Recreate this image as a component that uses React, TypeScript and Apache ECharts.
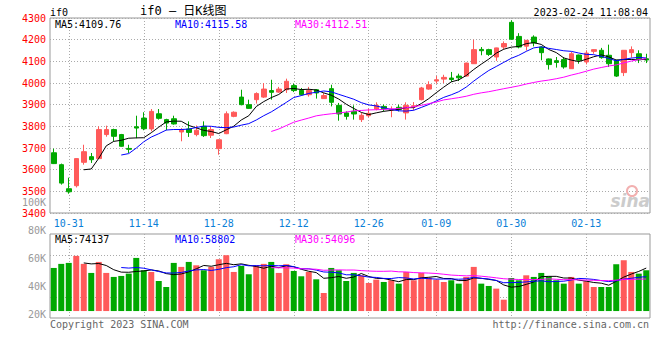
import { useEffect, useRef } from 'react';
import * as echarts from 'echarts';

// ---- data ----
const dates = [
  '10-27','10-28','10-31','11-01','11-02','11-03','11-04','11-07','11-08','11-09',
  '11-10','11-11','11-14','11-15','11-16','11-17','11-18','11-21','11-22','11-23',
  '11-24','11-25','11-28','11-29','11-30','12-01','12-02','12-05','12-06','12-07',
  '12-08','12-09','12-12','12-13','12-14','12-15','12-16','12-19','12-20','12-21',
  '12-22','12-23','12-26','12-27','12-28','12-29','12-30','01-03','01-04','01-05',
  '01-06','01-09','01-10','01-11','01-12','01-13','01-16','01-17','01-18','01-19',
  '01-20','01-30','01-31','02-01','02-02','02-03','02-06','02-07','02-08','02-09',
  '02-10','02-13','02-14','02-15','02-16','02-17','02-20','02-21','02-22','02-23',
];

const opens = [
  3678,3623,3512,3526,3634,3660,3651,3762,3785,3762,
  3698,3798,3838,3788,3858,3831,3835,3774,3788,3762,
  3800,3759,3697,3766,3846,3935,3900,3923,3935,3965,
  3958,3969,3988,3966,3946,3969,3928,3974,3897,3862,
  3869,3831,3849,3880,3892,3875,3888,3862,3891,3923,
  3972,4009,4018,4023,4032,4032,4089,4155,4154,4120,
  4166,4280,4215,4170,4212,4166,4111,4103,4108,4066,
  4129,4097,4146,4151,4128,4105,4048,4140,4135,4112,
];
const closes = [
  3628,3538,3498,3651,3683,3646,3785,3785,3754,3708,
  3694,3792,3789,3869,3837,3815,3811,3785,3772,3782,
  3757,3785,3738,3858,3865,3900,3883,3951,3972,3957,
  3972,4008,3965,3946,3965,3954,3942,3911,3857,3846,
  3857,3851,3860,3897,3881,3879,3878,3897,3895,3977,
  3992,4015,4026,4016,4024,4092,4154,4149,4132,4162,
  4182,4202,4166,4197,4185,4140,4085,4095,4074,4135,
  4105,4138,4154,4117,4089,4032,4151,4154,4108,4106,
];
const lows = [
  3626,3531,3489,3518,3623,3631,3650,3752,3731,3706,
  3677,3745,3782,3777,3831,3782,3808,3731,3751,3754,
  3751,3746,3669,3764,3842,3897,3881,3905,3931,3923,
  3954,3954,3958,3942,3937,3928,3927,3892,3826,3831,
  3831,3820,3842,3874,3869,3842,3869,3831,3874,3920,
  3969,3997,4000,4005,4009,4030,4088,4128,4125,4102,
  4155,4200,4160,4150,4169,4105,4062,4071,4066,4066,
  4089,4086,4135,4112,4074,4028,4032,4117,4092,4092,
];
const highs = [
  3697,3628,3563,3652,3715,3677,3800,3803,3789,3765,
  3715,3849,3865,3880,3880,3835,3849,3792,3823,3804,
  3823,3800,3740,3869,3869,3969,3923,3957,4000,4015,
  3982,4020,3997,3977,3982,3972,3954,3992,3908,3869,
  3897,3862,3882,3911,3900,3892,3900,3911,3912,3982,
  4008,4032,4038,4051,4043,4094,4200,4166,4158,4163,
  4192,4290,4230,4198,4220,4169,4113,4120,4120,4143,
  4131,4151,4155,4162,4177,4107,4152,4169,4151,4135,
];
const volumes = [
  74400,81400,83100,95200,81400,65800,84800,65800,58900,60600,
  64600,91700,70400,67500,51900,41500,83100,76200,84800,79000,
  70400,76200,89400,96400,67500,77900,63500,79000,81400,84800,
  65800,80800,69200,60000,67500,54800,31200,74400,70400,51900,
  65800,61700,48500,54200,50200,53100,47300,67500,53100,65800,
  57700,54200,50200,53100,47300,58900,76200,47300,43300,38700,
  19600,57100,53100,61700,58900,65800,60000,53100,47300,58900,
  47300,51400,41500,41500,41500,80800,87700,67500,64600,70400,
];

const xTickLabels = ['10-31','11-14','11-28','12-12','12-26','01-09','01-30','02-13'];
const priceMin = 3400;
const priceMax = 4300;
const priceStep = 100;
const volTickMin = 20000;
const volTickMax = 100000;
const volTickStep = 20000;
const priceLegend = ['MA5:4109.76', 'MA10:4115.58', 'MA30:4112.51'];
const volLegend = ['MA5:74137', 'MA10:58802', 'MA30:54096'];
const maPeriods = [5, 10, 30];
const titleText = 'if0 — 日K线图';
const symbolText = 'if0';
const timeText = '2023-02-24 11:08:04';
const copyrightText = 'Copyright 2023 SINA.COM';
const urlText = 'http://finance.sina.com.cn';

// ---- styles ----
const UP = '#ff5a5a';
const DOWN = '#00a800';
const MA_COLORS = ['#000000', '#0000ff', '#ff00ff'];
const MONO = "'DejaVu Sans Mono', monospace";
const GRID_LINE = { color: '#aaaaaa', type: [1, 2] as number[], width: 1 };

function movingAverage(arr: number[], n: number) {
  return arr.map((_, i) => {
    if (i < n - 1) return '-';
    let s = 0;
    for (let k = i - n + 1; k <= i; k++) s += arr[k];
    return +(s / n).toFixed(2);
  });
}

export default function App() {
  const ref = useRef<HTMLDivElement>(null);

  useEffect(() => {
    if (!ref.current) return;
    const chart = echarts.init(ref.current, undefined, { renderer: 'svg' });
    const isTick = (i: number) => xTickLabels.includes(dates[i]);

    const candleData = dates.map((_, i) => [opens[i], closes[i], lows[i], highs[i]]);
    const volData = volumes.map((v, i) => ({
      value: v,
      itemStyle: { color: closes[i] >= opens[i] ? UP : DOWN },
    }));

    const priceMA = maPeriods.map((p, k) => ({
      type: 'line',
      xAxisIndex: 0,
      yAxisIndex: 0,
      data: movingAverage(closes, p),
      showSymbol: false,
      symbol: 'none',
      lineStyle: { color: MA_COLORS[k], width: 1 },
      itemStyle: { color: MA_COLORS[k] },
      silent: true,
      z: 5,
    }));
    const volMA = maPeriods.map((p, k) => ({
      type: 'line',
      xAxisIndex: 1,
      yAxisIndex: 1,
      data: movingAverage(volumes, p),
      showSymbol: false,
      symbol: 'none',
      lineStyle: { color: MA_COLORS[k], width: 1 },
      itemStyle: { color: MA_COLORS[k] },
      silent: true,
      z: 5,
    }));

    const legendX = [55, 175, 295];
    const textFont = `10px ${MONO}`;

    const graphic: any[] = [
      { type: 'text', x: 50, y: 12, style: { text: symbolText, fill: '#000', font: textFont, textVerticalAlign: 'middle', verticalAlign: 'middle' } },
      { type: 'text', x: 140, y: 11, style: { text: titleText, fill: '#000', font: `12px ${MONO}, 'Noto Sans CJK SC'`, textVerticalAlign: 'middle', verticalAlign: 'middle' } },
      { type: 'text', x: 648, y: 12, style: { text: timeText, fill: '#000', font: textFont, textAlign: 'right', align: 'right', textVerticalAlign: 'middle', verticalAlign: 'middle' } },
      { type: 'text', x: 50, y: 324, style: { text: copyrightText, fill: '#666', font: textFont, textVerticalAlign: 'middle', verticalAlign: 'middle' } },
      { type: 'text', x: 649, y: 324, style: { text: urlText, fill: '#666', font: textFont, textAlign: 'right', align: 'right', textVerticalAlign: 'middle', verticalAlign: 'middle' } },
      { type: 'circle', shape: { cx: 632, cy: 191, r: 5 }, style: { fill: 'none', stroke: '#f2b0b0', lineWidth: 2 }, z: 1 },
      { type: 'text', x: 650, y: 201, z: 1, style: { text: 'sina', fill: '#cccccc', font: `italic bold 17px 'DejaVu Sans', sans-serif`, textAlign: 'right', align: 'right', textVerticalAlign: 'middle', verticalAlign: 'middle' } },
    ];
    priceLegend.forEach((t, k) => graphic.push({ type: 'text', x: legendX[k], y: 24, z: 10, style: { text: t, fill: MA_COLORS[k], font: textFont, textVerticalAlign: 'middle', verticalAlign: 'middle' } }));
    volLegend.forEach((t, k) => graphic.push({ type: 'text', x: legendX[k], y: 239, z: 10, style: { text: t, fill: MA_COLORS[k], font: textFont, textVerticalAlign: 'middle', verticalAlign: 'middle' } }));

    const option: any = {
      animation: false,
      backgroundColor: '#ffffff',
      textStyle: { fontFamily: MONO },
      grid: [
        { left: 50, top: 18, width: 600, height: 195, show: true, borderColor: '#999', borderWidth: 1, backgroundColor: 'transparent', outerBoundsMode: 'none' },
        { left: 50, top: 234, width: 600, height: 84, show: true, borderColor: '#999', borderWidth: 1, backgroundColor: 'transparent', outerBoundsMode: 'none' },
        { left: 50, top: 202, width: 600, height: 112, show: false, outerBoundsMode: 'none' },
      ],
      xAxis: [
        {
          type: 'category', gridIndex: 0, data: dates, boundaryGap: true,
          axisLine: { show: false }, axisTick: { show: false },
          axisLabel: { interval: (i: number) => isTick(i), color: '#0a7fd8', fontSize: 10, fontFamily: MONO, margin: 5 },
          splitLine: { show: true, interval: (i: number) => isTick(i), alignWithLabel: true, lineStyle: GRID_LINE },
        },
        {
          type: 'category', gridIndex: 1, data: dates, boundaryGap: true,
          axisLine: { show: false }, axisTick: { show: false }, axisLabel: { show: false },
          splitLine: { show: true, interval: (i: number) => isTick(i), alignWithLabel: true, lineStyle: GRID_LINE },
        },
        { type: 'value', gridIndex: 2, min: 0, max: 1, show: false },
      ],
      yAxis: [
        {
          type: 'value', gridIndex: 0, min: priceMin, max: priceMax, interval: priceStep,
          axisLine: { show: false }, axisTick: { show: false },
          axisLabel: { color: '#ff0000', fontSize: 10, fontFamily: MONO, margin: 4, formatter: (v: number) => String(v) },
          splitLine: { show: true, lineStyle: GRID_LINE },
        },
        { type: 'value', gridIndex: 1, min: -12000, max: 133000, show: false, splitLine: { show: false } },
        {
          type: 'value', gridIndex: 1, min: 0, max: 4, interval: 1, position: 'left',
          axisLine: { show: false }, axisTick: { show: false }, axisLabel: { show: false },
          splitLine: { show: true, lineStyle: { ...GRID_LINE, color: ['rgba(0,0,0,0)', '#aaaaaa', 'rgba(0,0,0,0)', '#aaaaaa', 'rgba(0,0,0,0)'] } },
        },
        {
          type: 'value', gridIndex: 2, min: volTickMin, max: volTickMax, interval: volTickStep,
          axisLine: { show: false }, axisTick: { show: false }, splitLine: { show: false },
          axisLabel: { color: '#999999', fontSize: 10, fontFamily: MONO, margin: 4, formatter: (v: number) => `${v / 1000}K` },
        },
      ],
      series: [
        {
          type: 'candlestick', xAxisIndex: 0, yAxisIndex: 0, data: candleData, barWidth: 5,
          itemStyle: { color: UP, color0: DOWN, borderColor: UP, borderColor0: DOWN, borderWidth: 1 },
          silent: true, z: 3,
        },
        ...priceMA,
        { type: 'bar', xAxisIndex: 1, yAxisIndex: 1, data: volData, barWidth: 6, silent: true, z: 3 },
        ...volMA,
        { type: 'scatter', xAxisIndex: 2, yAxisIndex: 3, data: [], silent: true },
      ],
      graphic,
    };
    chart.setOption(option);
    return () => chart.dispose();
  }, []);

  return <div ref={ref} style={{ width: 660, height: 360, position: 'absolute', left: 0, top: 0 }} />;
}
